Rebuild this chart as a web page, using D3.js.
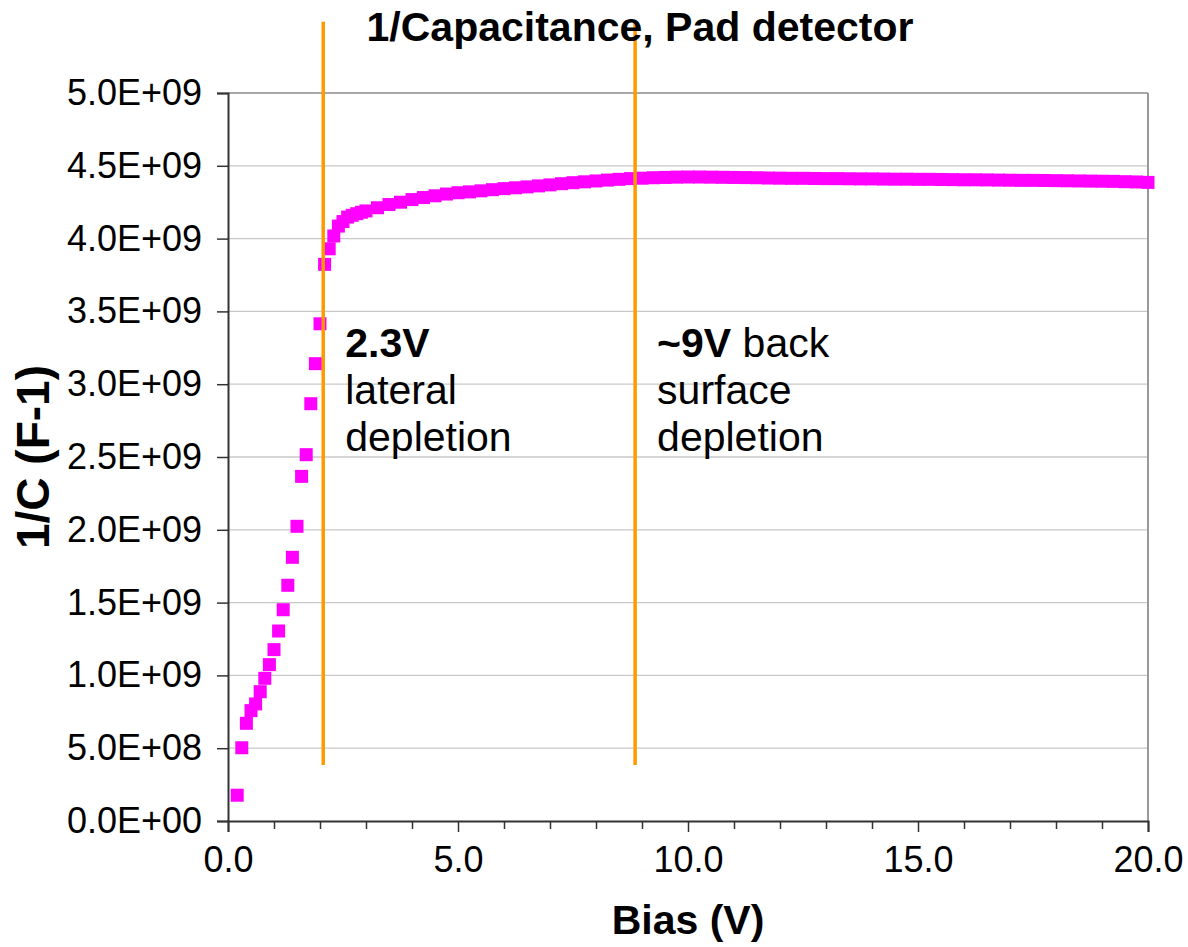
<!DOCTYPE html>
<html>
<head>
<meta charset="utf-8">
<script src="https://cdn.jsdelivr.net/npm/d3@7"></script>
<style>
  body { margin: 0; background: #fff; }
  svg { display: block; font-family: "Liberation Sans", Arial, sans-serif; }
  .tick text { font-size: 36px; fill: #000; }
</style>
</head>
<body>
<div id="chart"></div>
<script>
var width = 1188, height = 947,
	margin = { top: 93, right: 40, bottom: 126, left: 228 },
	plotW = 1148 - margin.left,
	plotH = 821 - margin.top;

// bias voltage (V)
var bias = [0.2, 0.3, 0.4, 0.5, 0.6, 0.7, 0.8, 0.9, 1.0, 1.1, 1.2, 1.3, 1.4, 1.5, 1.6, 1.7, 1.8, 1.9, 2.0, 2.1, 2.2, 2.3,
	2.4, 2.5, 2.6, 2.7, 2.8, 2.9, 3.0,
	3.25, 3.5, 3.75, 4.0, 4.25, 4.5, 4.75, 5.0, 5.25, 5.5, 5.75, 6.0, 6.25, 6.5, 6.75, 7.0, 7.25, 7.5, 7.75, 8.0,
	8.25, 8.5, 8.75, 9.0, 9.25, 9.5, 9.75, 10.0, 10.25, 10.5, 10.75, 11.0, 11.25, 11.5, 11.75, 12.0,
	12.25, 12.5, 12.75, 13.0, 13.25, 13.5, 13.75, 14.0, 14.25, 14.5, 14.75, 15.0, 15.25, 15.5, 15.75, 16.0,
	16.25, 16.5, 16.75, 17.0, 17.25, 17.5, 17.75, 18.0, 18.25, 18.5, 18.75, 19.0, 19.25, 19.5, 19.75, 20.0];

// 1/C (F-1)
var invC = [1.77e8, 5.03e8, 6.71e8, 7.58e8, 8.04e8, 8.88e8, 9.80e8, 1.074e9, 1.177e9, 1.305e9, 1.451e9, 1.619e9,
	1.811e9, 2.024e9, 2.367e9, 2.516e9, 2.866e9, 3.141e9, 3.415e9, 3.823e9, 3.930e9, 4.018e9,
	4.086e9, 4.117e9, 4.148e9, 4.160e9, 4.171e9, 4.181e9, 4.190e9,
	4.212e9, 4.234e9, 4.250e9, 4.268e9, 4.282e9, 4.294e9, 4.306e9, 4.315e9, 4.321e9, 4.328e9, 4.336e9, 4.343e9,
	4.349e9, 4.355e9, 4.362e9, 4.369e9, 4.377e9, 4.384e9, 4.390e9, 4.396e9,
	4.402e9, 4.407e9, 4.412e9, 4.415e9, 4.418e9, 4.420e9, 4.422e9, 4.423e9, 4.423e9, 4.422e9, 4.421e9, 4.420e9,
	4.419e9, 4.418e9, 4.416e9, 4.415e9,
	4.414e9, 4.414e9, 4.413e9, 4.412e9, 4.412e9, 4.411e9, 4.410e9, 4.410e9, 4.409e9, 4.408e9, 4.408e9, 4.407e9,
	4.407e9, 4.406e9, 4.405e9, 4.404e9,
	4.404e9, 4.403e9, 4.402e9, 4.401e9, 4.400e9, 4.400e9, 4.399e9, 4.398e9, 4.397e9, 4.396e9, 4.395e9, 4.394e9,
	4.393e9, 4.391e9, 4.389e9, 4.386e9];

var xTicks = [0, 5, 10, 15, 20],
	xMinor = [1, 2, 3, 4, 6, 7, 8, 9, 11, 12, 13, 14, 16, 17, 18, 19],
	yTicks = [0, 5e8, 1e9, 1.5e9, 2e9, 2.5e9, 3e9, 3.5e9, 4e9, 4.5e9, 5e9];

// vertical guide lines and their notes
var guideV = [2.07, 8.85],
	guideTop = 5.49e9,
	guideBottom = 3.85e8,
	noteBold = ["2.3V", "~9V"],
	noteRest = [["", "lateral", "depletion"], [" back", "surface", "depletion"]],
	noteY = 3.19e9;

var svg = d3.select("#chart").append("svg")
	.attr("width", width)
	.attr("height", height);

var g = svg.append("g")
	.attr("transform", "translate(" + margin.left + "," + margin.top + ")");

var x = d3.scaleLinear().domain([0, 20]).range([0, plotW]);
var y = d3.scaleLinear().domain([0, 5e9]).range([plotH, 0]);

function sci(d) {
	if (d === 0) return "0.0E+00";
	var e = Math.floor(Math.log10(d) + 1e-9);
	var m = d / Math.pow(10, e);
	return m.toFixed(1) + "E+" + (e < 10 ? "0" : "") + e;
}

// gridlines
g.selectAll(".grid")
	.data(yTicks.filter(function(d) { return d > 0; }))
	.enter().append("line")
	.attr("x1", 0).attr("x2", plotW)
	.attr("y1", function(d) { return y(d); })
	.attr("y2", function(d) { return y(d); })
	.attr("stroke", "#c8c8c8")
	.attr("stroke-width", 1.3);

// plot border top/right
g.append("line").attr("x1", 0).attr("x2", plotW).attr("y1", 0).attr("y2", 0)
	.attr("stroke", "#999").attr("stroke-width", 1.5);
g.append("line").attr("x1", plotW).attr("x2", plotW).attr("y1", 0).attr("y2", plotH)
	.attr("stroke", "#999").attr("stroke-width", 2);

// axes
g.append("g")
	.call(d3.axisLeft(y).tickValues(yTicks).tickFormat(sci).tickSize(11).tickPadding(15));
g.append("g")
	.attr("transform", "translate(0," + plotH + ")")
	.call(d3.axisBottom(x).tickValues(xTicks).tickFormat(d3.format(".1f")).tickSize(11).tickPadding(14));
g.append("g")
	.attr("transform", "translate(0," + plotH + ")")
	.call(d3.axisBottom(x).tickValues(xMinor).tickFormat("").tickSize(8))
	.select(".domain").remove();

svg.selectAll(".domain").attr("stroke", "#333").attr("stroke-width", 2);
svg.selectAll(".tick line").attr("stroke", "#333").attr("stroke-width", 1.5);

// data markers
var pts = bias.map(function(b, i) { return { v: b, c: invC[i] }; });
g.selectAll(".pt")
	.data(pts)
	.enter().append("rect")
	.attr("class", "pt")
	.attr("x", function(d) { return x(d.v) - 6.5; })
	.attr("y", function(d) { return y(d.c) - 6.5; })
	.attr("width", 13)
	.attr("height", 13)
	.attr("fill", "#ff00ff");

// orange guide lines
g.selectAll(".guide")
	.data(guideV)
	.enter().append("line")
	.attr("x1", function(d) { return x(d); })
	.attr("x2", function(d) { return x(d); })
	.attr("y1", y(guideTop))
	.attr("y2", y(guideBottom))
	.attr("stroke", "#ff9900")
	.attr("stroke-width", 3.5);

// notes
guideV.forEach(function(v, i) {
	var t = g.append("text")
		.attr("x", x(v) + 22)
		.attr("y", y(noteY))
		.style("font-size", "41px");
	t.append("tspan").attr("font-weight", "bold").text(noteBold[i]);
	t.append("tspan").text(noteRest[i][0]);
	noteRest[i].slice(1).forEach(function(s) {
		t.append("tspan").attr("x", x(v) + 22).attr("dy", 47).text(s);
	});
});

// titles
svg.append("text")
	.attr("x", 640).attr("y", 41)
	.attr("text-anchor", "middle")
	.style("font-size", "41px").style("font-weight", "bold")
	.text("1/Capacitance, Pad detector");

svg.append("text")
	.attr("x", margin.left + plotW / 2).attr("y", 934)
	.attr("text-anchor", "middle")
	.style("font-size", "41px").style("font-weight", "bold")
	.text("Bias (V)");

svg.append("text")
	.attr("transform", "translate(49," + (margin.top + plotH / 2) + ") rotate(-90)")
	.attr("text-anchor", "middle")
	.style("font-size", "46px").style("font-weight", "bold")
	.text("1/C (F-1)");
</script>
</body>
</html>
